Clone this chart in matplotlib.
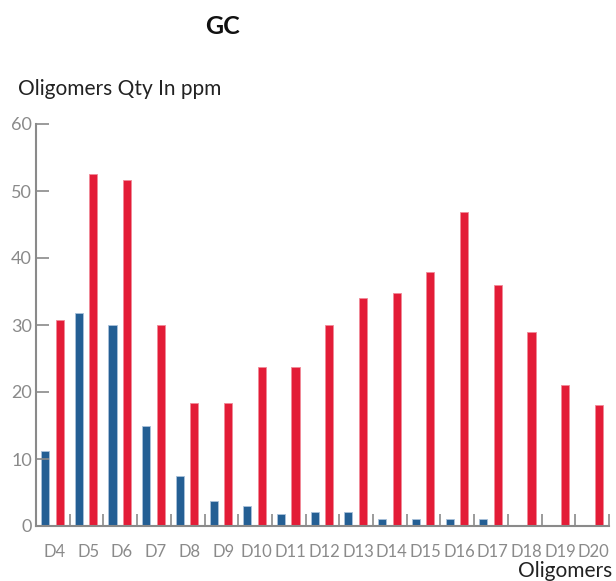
import numpy as np
import matplotlib
matplotlib.use("Agg")
import matplotlib.pyplot as plt

plt.rcParams['font.family'] = ['Lato', 'DejaVu Sans']

categories = ['D4', 'D5', 'D6', 'D7', 'D8', 'D9', 'D10', 'D11', 'D12', 'D13',
              'D14', 'D15', 'D16', 'D17', 'D18', 'D19', 'D20']
blue_vals = [11.2, 31.8, 30, 15, 7.5, 3.7, 3, 1.8, 2.1, 2.1, 1, 1, 1, 1, 0, 0, 0]
red_vals = [30.8, 52.6, 51.7, 30, 18.4, 18.4, 23.8, 23.8, 30, 34, 34.8, 37.9,
            46.8, 36, 29, 21, 18]
yticks = [0, 10, 20, 30, 40, 50, 60]

BLUE = '#245f94'
RED = '#e31c37'
GRAY = '#8a8a8a'

fig = plt.figure(figsize=(6.16, 5.81), dpi=100)
ax = fig.add_axes([36 / 616, 55 / 581, 573 / 616, 402 / 581])

x = np.arange(len(categories))
w = 0.24
ax.bar(x - 0.23, blue_vals, width=w, color=BLUE, edgecolor='#a9c2da', linewidth=0.6)
ax.bar(x + 0.2, red_vals, width=w, color=RED, edgecolor='#f08a98', linewidth=0.6)

ax.set_xlim(-0.5, len(categories) - 0.5)
ax.set_ylim(0, 60)

# y axis, ticks pointing inward
ax.set_yticks(yticks)
ax.tick_params(axis='y', direction='in', length=9, width=1.2, color=GRAY,
               labelcolor=GRAY, labelsize=13, pad=3)

# x axis: labels at centers, tick marks at boundaries
ax.set_xticks(x + 0.05)
ax.set_xticklabels(categories)
ax.tick_params(axis='x', which='major', length=0, labelcolor=GRAY,
               labelsize=12, pad=13)
ax.set_xticks(np.arange(len(categories)) + 0.5, minor=True)
ax.tick_params(axis='x', which='minor', direction='in', length=9, width=1.2,
               color=GRAY)

for s in ['top', 'right']:
    ax.spines[s].set_visible(False)
for s in ['left', 'bottom']:
    ax.spines[s].set_color(GRAY)
    ax.spines[s].set_linewidth(1.5)

fig.text(223 / 616, 1 - 27 / 581, 'GC', ha='center', va='center',
         fontsize=18, fontweight='bold', color='#111111')
fig.text(18 / 616, 1 - 89 / 581, 'Oligomers Qty In ppm', ha='left', va='center',
         fontsize=15, color='#222222')
fig.text(612 / 616, 1 - 571 / 581, 'Oligomers', ha='right', va='center',
         fontsize=15, color='#222222')

fig.savefig('out.png', dpi=100)
